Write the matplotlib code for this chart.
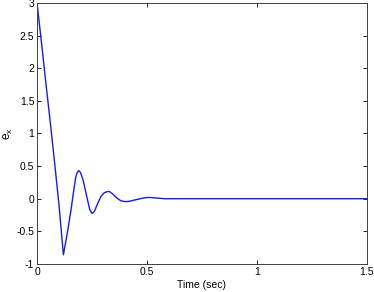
import matplotlib
matplotlib.use("Agg")
import matplotlib.pyplot as plt

# error signal e_x
t = [0, 0.02, 0.04, 0.06, 0.08, 0.10, 0.12, 0.14, 0.155, 0.165, 0.175, 0.182,
     0.19, 0.198, 0.21, 0.225, 0.24, 0.25, 0.26, 0.275, 0.29, 0.305, 0.32,
     0.33, 0.345, 0.36, 0.38, 0.40, 0.42, 0.45, 0.48, 0.50, 0.52, 0.55, 0.58,
     0.60, 1.5]
ex = [3.0, 2.40, 1.78, 1.18, 0.55, -0.10, -0.86, -0.48, -0.16, 0.08, 0.31, 0.40,
      0.43, 0.40, 0.28, 0.05, -0.17, -0.225, -0.20, -0.08, 0.03, 0.09, 0.11,
      0.108, 0.07, 0.02, -0.03, -0.045, -0.04, -0.015, 0.008, 0.018, 0.018, 0.008, 0.0,
      0.0, 0.0]

xticks = [0, 0.5, 1, 1.5]
xticklabels = ["0", "0.5", "1", "1.5"]
yticks = [-1, -0.5, 0, 0.5, 1, 1.5, 2, 2.5, 3]
yticklabels = ["-1", "-0.5", "0", "0.5", "1", "1.5", "2", "2.5", "3"]

plt.rcParams['font.family'] = ['Liberation Sans', 'DejaVu Sans']
plt.rcParams['font.size'] = 7.5

fig = plt.figure(figsize=(3.74, 2.92), dpi=100)
ax = fig.add_axes([0.099, 0.096, 0.882, 0.894])
ax.plot(t, ex, color='#1a1ae6', lw=1.0)
ax.set_xlim(0, 1.5)
ax.set_ylim(-1, 3)
ax.set_xticks(xticks)
ax.set_xticklabels(xticklabels)
ax.set_yticks(yticks)
ax.set_yticklabels(yticklabels)
ax.tick_params(direction='in', top=True, right=True, length=3, width=0.6, pad=2)
for s in ax.spines.values():
    s.set_linewidth(0.7)
    s.set_color('#404040')
ax.set_xlabel("Time (sec)", labelpad=2)
ax.set_ylabel("$\\mathregular{e_x}$", labelpad=1, fontsize=8.5)
fig.savefig("out.png", dpi=100)
